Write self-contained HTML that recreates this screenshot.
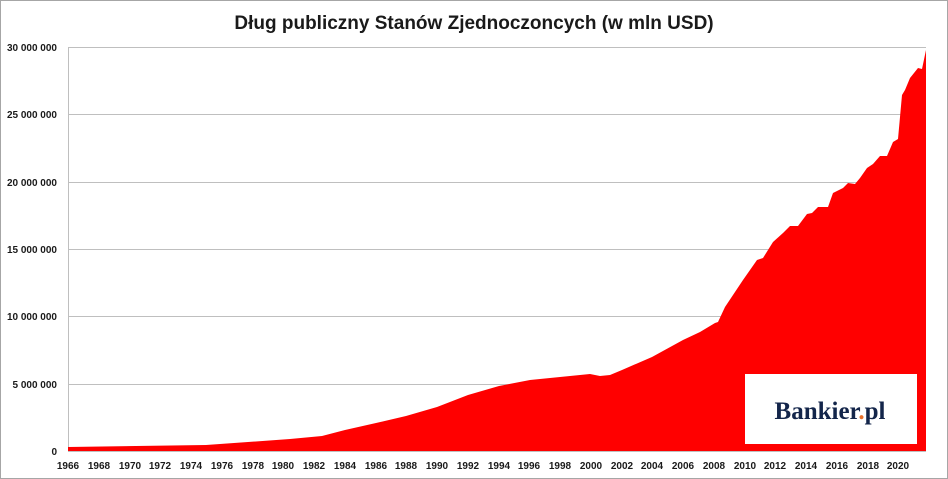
<!DOCTYPE html>
<html><head><meta charset="utf-8"><style>
html,body{margin:0;padding:0;background:#fff;}
svg{display:block}
</style></head><body>
<svg width="948" height="479" xmlns="http://www.w3.org/2000/svg">
<rect x="0.5" y="0.5" width="947" height="478" fill="#fff" stroke="#a6a6a6"/>
<text x="474" y="29" text-anchor="middle" font-family="Liberation Sans, sans-serif" font-size="19" font-weight="bold" fill="#1a1a1a">Dług publiczny Stanów Zjednoczoncych (w mln USD)</text>
<g stroke="#bfbfbf" stroke-width="1">
<line x1="68" y1="47.5" x2="926" y2="47.5"/>
<line x1="68" y1="114.5" x2="926" y2="114.5"/>
<line x1="68" y1="182.5" x2="926" y2="182.5"/>
<line x1="68" y1="249.5" x2="926" y2="249.5"/>
<line x1="68" y1="316.5" x2="926" y2="316.5"/>
<line x1="68" y1="384.5" x2="926" y2="384.5"/>
<line x1="68.5" y1="47" x2="68.5" y2="451"/>
</g>
<polygon fill="#ff0000" points="68,451 68,447 206,445 290,439 322,436 345,430 376,423 406,416 437,407 468,395 499,386 530,380 560,377 590,374 600,376 610,375 622,370 652,357 683,340 700,332 715,323 718,322 725,307 733,295 743,280 757,260 763,258 773,242 783,233 790,226 798,226 807,214 812,213 818,207 828,207 833,193 843,188 848,183 855,184 860,178 867,168 873,164 880,156 887,156 893,142 898,139 902,95 905,90 910,78 918,68 922,69 926,50 926,451"/>
<line x1="68" y1="451.5" x2="926" y2="451.5" stroke="#bfbfbf"/>
<g font-family="Liberation Sans, sans-serif" font-size="10" font-weight="bold" fill="#1a1a1a" text-anchor="end">
<text x="57" y="51">30 000 000</text>
<text x="57" y="118">25 000 000</text>
<text x="57" y="186">20 000 000</text>
<text x="57" y="253">15 000 000</text>
<text x="57" y="320">10 000 000</text>
<text x="57" y="388">5 000 000</text>
<text x="57" y="455">0</text>
</g>
<g font-family="Liberation Sans, sans-serif" font-size="10" font-weight="bold" fill="#1a1a1a" text-anchor="middle">
<text x="68" y="469">1966</text><text x="99" y="469">1968</text><text x="130" y="469">1970</text><text x="160" y="469">1972</text><text x="191" y="469">1974</text><text x="222" y="469">1976</text><text x="253" y="469">1978</text><text x="283" y="469">1980</text><text x="314" y="469">1982</text><text x="345" y="469">1984</text><text x="376" y="469">1986</text><text x="406" y="469">1988</text><text x="437" y="469">1990</text><text x="468" y="469">1992</text><text x="499" y="469">1994</text><text x="529" y="469">1996</text><text x="560" y="469">1998</text><text x="591" y="469">2000</text><text x="622" y="469">2002</text><text x="652" y="469">2004</text><text x="683" y="469">2006</text><text x="714" y="469">2008</text><text x="745" y="469">2010</text><text x="775" y="469">2012</text><text x="806" y="469">2014</text><text x="837" y="469">2016</text><text x="868" y="469">2018</text><text x="898" y="469">2020</text>
</g>
<rect x="745" y="374" width="172" height="70" fill="#fff"/>
<text x="830" y="419" text-anchor="middle" font-family="Liberation Serif, serif" font-size="25" font-weight="bold" fill="#13254a">Bankier<tspan fill="#e8702a">.</tspan>pl</text>
</svg>
</body></html>
